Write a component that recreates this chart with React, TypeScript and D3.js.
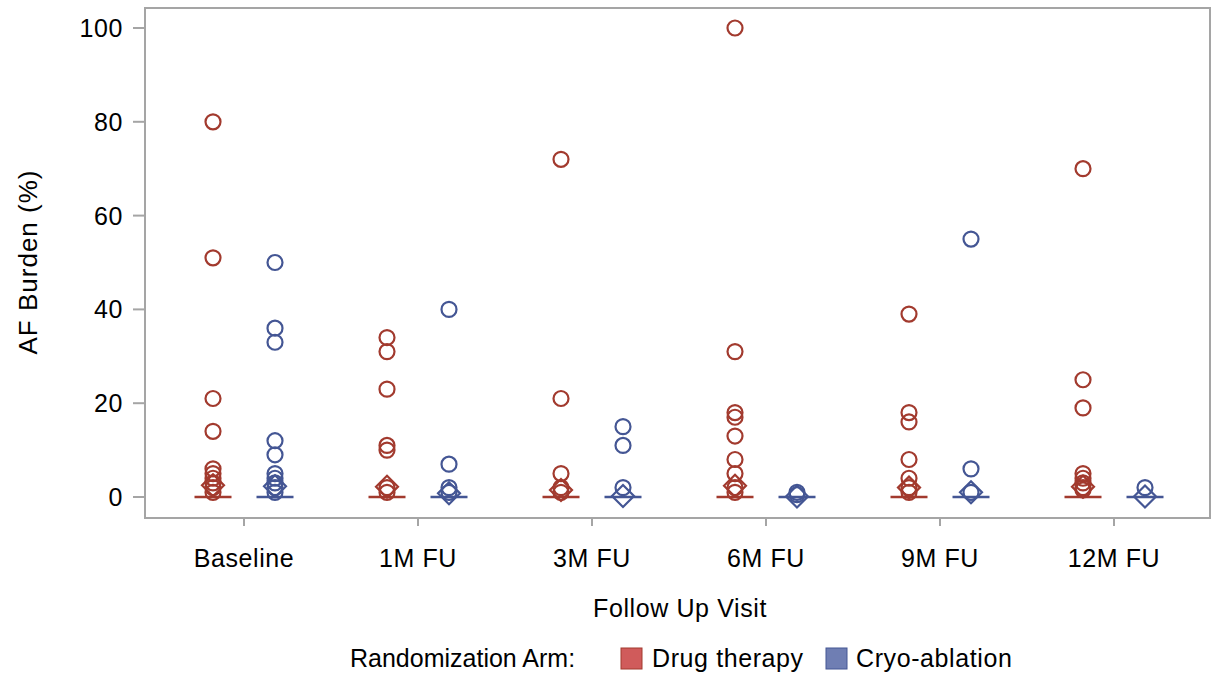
import React from 'react';
import * as d3 from 'd3';

const categories = ['Baseline', '1M FU', '3M FU', '6M FU', '9M FU', '12M FU'];
const arms = ['Drug therapy', 'Cryo-ablation'];

// outliers per visit (%)
const drugOutliers = [
  [80, 51, 21, 14, 6, 5, 4, 3, 2, 1],
  [34, 31, 23, 11, 10, 2, 1],
  [72, 21, 5, 2, 1],
  [100, 31, 18, 17, 13, 8, 5, 2, 1],
  [39, 18, 16, 8, 4, 2, 1],
  [70, 25, 19, 5, 4, 3, 2, 1.5],
];
const cryoOutliers = [
  [50, 36, 33, 12, 9, 5, 4, 3, 2, 1],
  [40, 7, 2, 1],
  [15, 11, 2],
  [1, 0.5],
  [55, 6, 1],
  [2],
];
const drugMeans = [2.5, 2.2, 1.5, 2.4, 2, 2.2];
const cryoMeans = [2.3, 0.8, 0.2, 0.1, 1, 0.1];
const drugMedians = [0, 0, 0, 0, 0, 0];
const cryoMedians = [0, 0, 0, 0, 0, 0];
const yTicks = [0, 20, 40, 60, 80, 100];

const lineColors = ['#A23A2E', '#445694'];
const fillColors = ['#D05B5B', '#6F7EB3'];
const frameColor = '#A5A5A5';
const font = '"Liberation Sans", Arial, sans-serif';
const fs = 25;
const ls = '0.6px';

const W = 1212;
const H = 679;
const frame = { left: 145, top: 8, right: 1210, bottom: 518 };

export default function App() {
  const x = d3.scaleBand().domain(categories).range([157, 1201]);
  const grp = d3.scalePoint().domain(arms).range([-31, 31]);
  const y = d3.scaleLinear().domain([0, 100]).range([497, 28]);
  const boxW = 37;
  const r = 7.5;
  const dm = 11;

  const series = [
    { arm: arms[0], outliers: drugOutliers, means: drugMeans, medians: drugMedians },
    { arm: arms[1], outliers: cryoOutliers, means: cryoMeans, medians: cryoMedians },
  ];

  return (
    <svg width={W} height={H} style={{ position: 'absolute', left: 0, top: 0, background: '#fff' }}
      fontFamily={font} letterSpacing={ls}>
      <rect x={frame.left} y={frame.top} width={frame.right - frame.left} height={frame.bottom - frame.top}
        fill="none" stroke={frameColor} strokeWidth={2} />
      {yTicks.map(t => (
        <g key={t}>
          <line x1={frame.left - 12} x2={frame.left} y1={y(t)} y2={y(t)} stroke={frameColor} strokeWidth={2} />
          <text x={frame.left - 22} y={y(t)} dy="0.36em" textAnchor="end" fontSize={fs} fill="#000">{t}</text>
        </g>
      ))}
      {categories.map(c => {
        const cx = (x(c) as number) + x.bandwidth() / 2;
        return (
          <g key={c}>
            <line x1={cx} x2={cx} y1={frame.bottom} y2={frame.bottom + 8} stroke={frameColor} strokeWidth={2} />
            <text x={cx} y={567} textAnchor="middle" fontSize={fs} fill="#000">{c}</text>
          </g>
        );
      })}
      <text transform={`translate(37,262) rotate(-90)`} textAnchor="middle" fontSize={26} letterSpacing="1px" fill="#000">AF Burden (%)</text>
      <text x={680} y={617} textAnchor="middle" fontSize={fs} fill="#000">Follow Up Visit</text>

      {series.map((s, si) => (
        <g key={s.arm} stroke={lineColors[si]} fill="none" strokeWidth={2.2}>
          {categories.map((c, ci) => {
            const cx = (x(c) as number) + x.bandwidth() / 2 + (grp(s.arm) as number);
            const my = y(s.means[ci]);
            return (
              <g key={c}>
                <line x1={cx - boxW / 2} x2={cx + boxW / 2} y1={y(s.medians[ci])} y2={y(s.medians[ci])} strokeWidth={2.5} />
                <path d={`M${cx},${my - dm}L${cx + dm},${my}L${cx},${my + dm}L${cx - dm},${my}Z`} />
                {s.outliers[ci].map((v, k) => (
                  <circle key={k} cx={cx} cy={y(v)} r={r} />
                ))}
              </g>
            );
          })}
        </g>
      ))}

      <g fontSize={fs} fill="#000">
        <text x={350} y={667} letterSpacing="0px">Randomization Arm:</text>
        <rect x={621} y={648} width={21} height={21} fill={fillColors[0]} stroke={lineColors[0]} strokeWidth={1} />
        <text x={652} y={667}>{arms[0]}</text>
        <rect x={826} y={648} width={21} height={21} fill={fillColors[1]} stroke={lineColors[1]} strokeWidth={1} />
        <text x={856} y={667}>{arms[1]}</text>
      </g>
    </svg>
  );
}
